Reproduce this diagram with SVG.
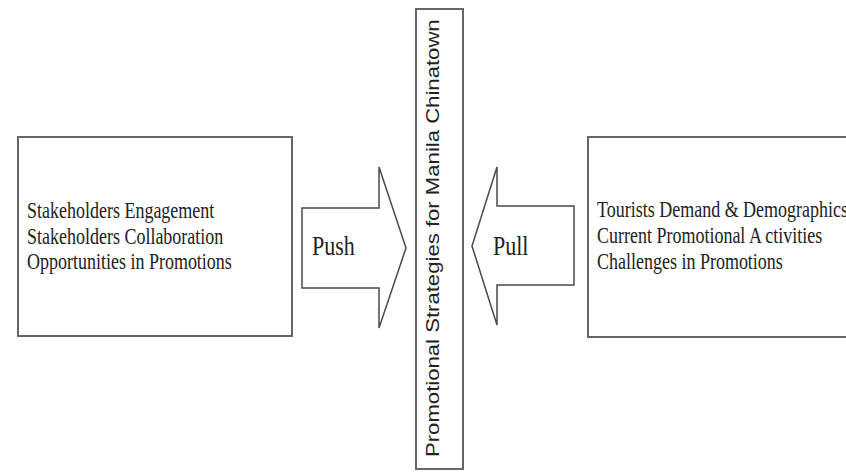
<svg xmlns="http://www.w3.org/2000/svg" width="846" height="473" viewBox="0 0 846 473">
  <style>
    .box { fill: #ffffff; stroke: #666666; stroke-width: 2; }
    .arrow { fill: #ffffff; stroke: #4a4a4a; stroke-width: 1.5; stroke-linejoin: miter; }
    .serif { font-family: "Liberation Serif", "Times New Roman", serif; fill: #222222; }
    .body { font-size: 18px; }
    .big { font-size: 22px; }
    .sans { font-family: "Liberation Sans", Arial, sans-serif; font-size: 18px; fill: #222222; }
  </style>
  <rect width="846" height="473" fill="#ffffff"/>

  <!-- Push-side factors -->
  <g id="push-factors">
    <rect class="box" x="18" y="137" width="274" height="199"/>
    <text class="serif body" transform="translate(27,218) scale(1,1.25)">Stakeholders Engagement</text>
    <text class="serif body" transform="translate(27,243.5) scale(1,1.25)">Stakeholders Collaboration</text>
    <text class="serif body" transform="translate(27,269) scale(1,1.25)">Opportunities in Promotions</text>
  </g>

  <!-- Central strategy column -->
  <g id="strategies">
    <rect class="box" x="416" y="9" width="47" height="460"/>
    <text class="sans" transform="translate(439,457) rotate(-90) scale(1.23,1)">Promotional Strategies for Manila Chinatown</text>
  </g>

  <!-- Pull-side factors -->
  <g id="pull-factors">
    <rect class="box" x="588" y="137" width="270" height="200"/>
    <text class="serif body" transform="translate(597,216.5) scale(1,1.25)">Tourists Demand &amp; Demographics</text>
    <text class="serif body" transform="translate(597,243) scale(1,1.25)">Current Promotional A ctivities</text>
    <text class="serif body" transform="translate(597,269) scale(1,1.25)">Challenges in Promotions</text>
  </g>

  <!-- Block arrows -->
  <g id="connectors">
    <g id="push">
      <polygon class="arrow" points="302,208 379,208 379,167 406,248 379,328 379,288 302,288"/>
      <text class="serif big" transform="translate(312,255) scale(1,1.23)">Push</text>
    </g>
    <g id="pull">
      <polygon class="arrow" points="574,206 497,206 497,167 472,246 497,325 497,285 574,285"/>
      <text class="serif big" transform="translate(493,255) scale(1,1.23)">Pull</text>
    </g>
  </g>
</svg>
